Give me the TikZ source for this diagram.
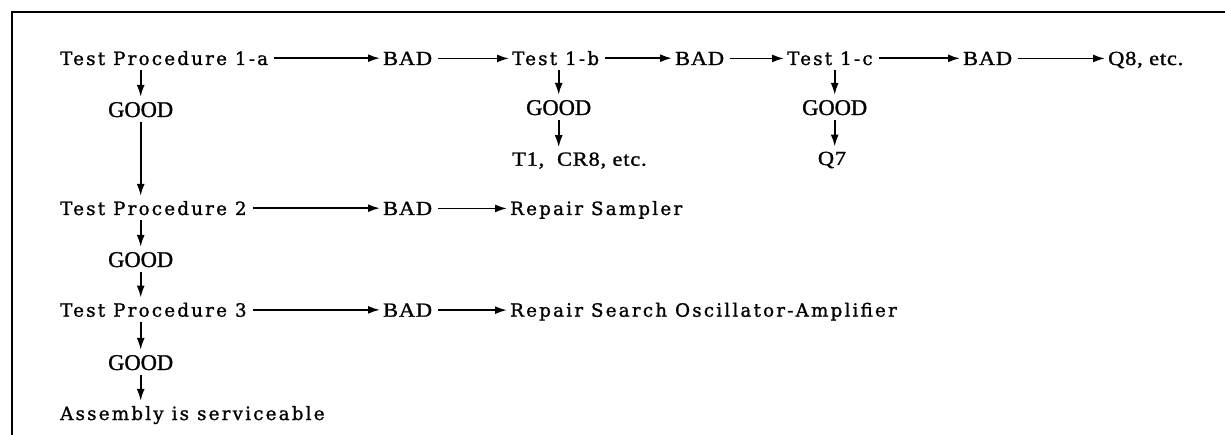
\documentclass[tikz,border=0pt]{standalone}
\usepackage{fontspec}
\usetikzlibrary{arrows.meta}
\newfontfamily\twfont[LetterSpace=12,FakeBold=1.2]{DejaVu Serif}
\newfontfamily\prfont[FakeBold=1.2]{Liberation Serif}
\newfontfamily\prwide[FakeStretch=1.12,FakeBold=1.2,LetterSpace=4]{Liberation Serif}
\begin{document}
\begin{tikzpicture}[x=1pt,y=-1pt,
  tw/.style={inner sep=0pt, anchor=base west, font=\twfont\fontsize{18.3}{20}\selectfont},
  bd/.style={inner sep=0pt, anchor=base west, font=\prwide\fontsize{20}{22}\selectfont},
  gd/.style={inner sep=0pt, anchor=base west, font=\prfont\fontsize{22.5}{24}\selectfont},
  pr/.style={inner sep=0pt, anchor=base west, font=\prwide\fontsize{20}{22}\selectfont},
  arr/.style={line width=1.8pt, -{Latex[length=12pt,width=8pt]}},
  harr/.style={arr, shorten <=6pt, shorten >=3pt},
  varr/.style={arr, shorten <=5pt, shorten >=5pt}]
\useasboundingbox (0,0) rectangle (1225,435);
\draw[line width=2.2pt] (12,435) -- (12,12) -- (1225,12);
% row 1
\node[tw] (tp1a) at (60,65) {Test Procedure 1-a};
\node[bd] (bad1a) at (383,65) {BAD};
\node[tw] (t1b) at (512,65) {Test 1-b};
\node[bd] (bad1b) at (675,65) {BAD};
\node[tw] (t1c) at (787,65) {Test 1-c};
\node[bd] (bad1c) at (963,65) {BAD};
\node[pr] (q8) at (1108,65) {Q8, etc.};
\node[gd] (good1) at (108,117) {GOOD};
\node[gd] (good1b) at (526,115) {GOOD};
\node[pr] (t1cr8) at (512,165.7) {T1,\ \ CR8, etc.};
\node[gd] (good1c) at (802,115) {GOOD};
\node[pr,anchor=base] (q7) at (832,165) {Q7};
% row 2
\node[tw] (tp2) at (60,215) {Test Procedure 2};
\node[bd] (bad2) at (383,215) {BAD};
\node[tw] (rs) at (510,215) {Repair Sampler};
\node[gd] (good2) at (108,267) {GOOD};
% row 3
\node[tw] (tp3) at (60,316.7) {Test Procedure 3};
\node[bd] (bad3) at (383,316.7) {BAD};
\node[tw] (rso) at (510,316.7) {Repair Search Oscillator-Amplifier};
\node[gd] (good3) at (108,370) {GOOD};
\node[tw] (asm) at (60,420) {Assembly is serviceable};
% horizontal arrows
\draw[harr] (tp1a.east) -- (tp1a.east -| bad1a.west);
\draw[harr] (bad1a.east) -- (bad1a.east -| t1b.west);
\draw[harr] (t1b.east) -- (t1b.east -| bad1b.west);
\draw[harr] (bad1b.east) -- (bad1b.east -| t1c.west);
\draw[harr] (t1c.east) -- (t1c.east -| bad1c.west);
\draw[harr] (bad1c.east) -- (bad1c.east -| q8.west);
\draw[harr] (tp2.east) -- (tp2.east -| bad2.west);
\draw[harr] (bad2.east) -- (bad2.east -| rs.west);
\draw[harr] (tp3.east) -- (tp3.east -| bad3.west);
\draw[harr] (bad3.east) -- (bad3.east -| rso.west);
% vertical arrows
\draw[varr] (tp1a.south -| good1) -- (good1.north);
\draw[varr] (good1.south) -- (good1.south |- tp2.north);
\draw[varr] (tp2.south -| good2) -- (good2.north);
\draw[varr] (good2.south) -- (good2.south |- tp3.north);
\draw[varr] (tp3.south -| good3) -- (good3.north);
\draw[varr] (good3.south) -- (good3.south |- asm.north);
\draw[varr] (t1b.south -| good1b) -- (good1b.north);
\draw[varr] (good1b.south) -- (good1b.south |- t1cr8.north);
\draw[varr] (t1c.south -| good1c) -- (good1c.north);
\draw[varr] (good1c.south) -- (good1c.south |- q7.north);
\end{tikzpicture}
\end{document}
